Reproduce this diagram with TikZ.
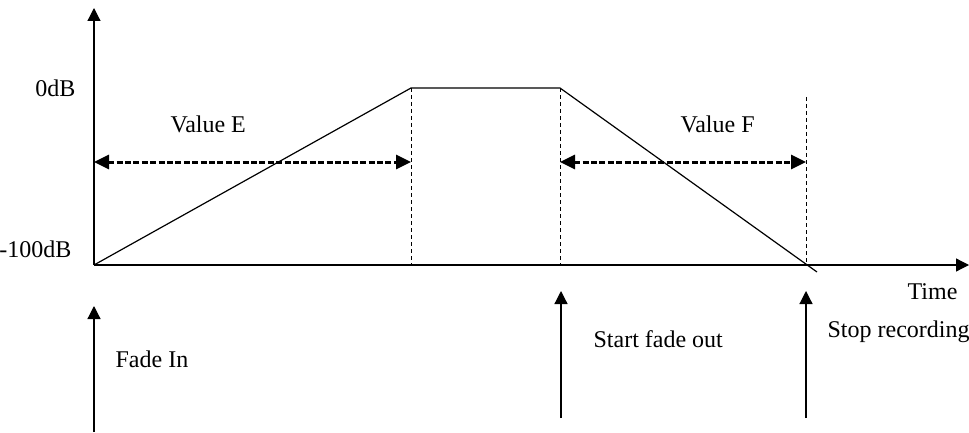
\documentclass[tikz,border=0pt]{standalone}
\usepackage{fontspec}
\setmainfont{Liberation Serif}
\usetikzlibrary{arrows.meta, calc, positioning}

\begin{document}
\begin{tikzpicture}[>={Triangle[length=6.5pt, width=6.5pt]}, x=0.5pt, y=-0.5pt,
  font=\fontsize{12}{14}\selectfont, line width=0.6pt,
  every node/.style={inner sep=0pt},
  guide/.style={line width=0.5pt, dash pattern=on 2pt off 1.5pt},
  span/.style={{Triangle[length=7.5pt, width=7pt]}-{Triangle[length=7.5pt, width=7pt]}, line width=1.5pt, dash pattern=on 3pt off 1.2pt},
  event/.style={->, line width=0.6pt}]

  \useasboundingbox (0,0) rectangle (969,433);

  % axes
  \coordinate (O) at (94,265);
  \coordinate (ytop) at (94,8);
  \coordinate (xend) at (969,265);
  \draw[->] (O) -- (ytop);
  \draw[->] (O) -- (xend);

  % level curve
  \coordinate (inEnd) at (411,88);
  \coordinate (outStart) at (560,88);
  \coordinate (outEnd) at (817,272);
  \draw (O) -- (inEnd) -- (outStart) -- (outEnd);

  % guides
  \coordinate (stop) at (806,97);
  \foreach \p in {inEnd, outStart, stop} {
    \draw[guide] (\p) -- (\p |- O);
  }

  % fade lengths
  \coordinate (eL) at (94,162);
  \coordinate (eR) at (411,162);
  \coordinate (fL) at (560,162);
  \coordinate (fR) at (806,162);
  \draw[span] (eL) -- (eR);
  \draw[span] (fL) -- (fR);

  \node[anchor=base east] (zero) at (76,97) {0dB};
  \node[anchor=base east] (floor) at (72,257) {-100dB};
  \node[anchor=base west] (valE) at (170,133) {Value E};
  \node[anchor=base west] (valF) at (680,133) {Value F};
  \node[anchor=base west] (time) at (907,299) {Time};

  % events
  \foreach \n/\x/\t/\b in {fin/94/306/432, fout/561/291/418, rec/806/291/418} {
    \coordinate (\n-b) at (\x,\b);
    \coordinate (\n-t) at (\x,\t);
    \draw[event] (\n-b) -- (\n-t);
  }
  \node[anchor=base west] (fadein) at (115,367) {Fade In};
  \node[anchor=base west] (fadeout) at (593,347) {Start fade out};
  \node[anchor=base west] (stoprec) at (827,337) {Stop recording};

\end{tikzpicture}
\end{document}
